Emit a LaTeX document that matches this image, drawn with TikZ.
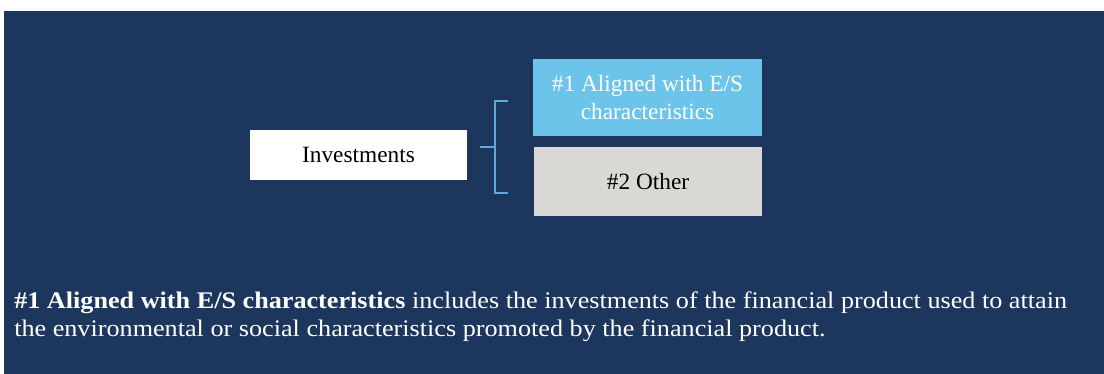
\documentclass[tikz,border=0pt]{standalone}
\usepackage{fontspec}
\setmainfont{Liberation Serif}
\newfontfamily\notefont[FakeStretch=1.1]{Liberation Serif}
\definecolor{navy}{RGB}{28,54,93}
\definecolor{skyblue}{RGB}{108,196,234}
\definecolor{lightgrey}{RGB}{218,216,213}
\definecolor{brackblue}{RGB}{92,170,220}
\tikzset{
  boxnode/.style={inner sep=0pt, align=center, font=\fontsize{17.5}{20.5}\selectfont},
  bracketline/.style={draw=brackblue, line width=1.1pt},
  notetext/.style={anchor=base west, inner sep=0pt, text=white, font=\notefont\fontsize{17.85}{20.5}\selectfont}
}
\begin{document}
\begin{tikzpicture}[x=0.75pt,y=-0.75pt]
\useasboundingbox (0,0) rectangle (1104,374);
\fill[white] (0,0) rectangle (1104,374);
\fill[navy] (4,11) rectangle (1104,374);
\node[boxnode, fill=white, minimum width=162.75pt, minimum height=37.5pt] (inv) at (358.5,155) {Investments};
\node[boxnode, fill=skyblue, text=white, minimum width=171.75pt, minimum height=57.75pt] (es) at (647.5,97.5) {\#1 Aligned with E/S\\characteristics};
\node[boxnode, fill=lightgrey, minimum width=171pt, minimum height=51.75pt] (oth) at (648,181.5) {\#2 Other};
\coordinate (bs) at (480,147);
\coordinate (bm) at (495,147);
\coordinate (bt) at (508,101);
\coordinate (bb) at (508,193);
\draw[bracketline] (bs) -- (bm);
\draw[bracketline] (bt) -| (bm) |- (bb);
\node[notetext] (n1) at (14,308) {\textbf{\#1 Aligned with E/S characteristics} includes the investments of the financial product used to attain};
\node[notetext] (n2) at (14,336) {the environmental or social characteristics promoted by the financial product.};
\end{tikzpicture}
\end{document}
